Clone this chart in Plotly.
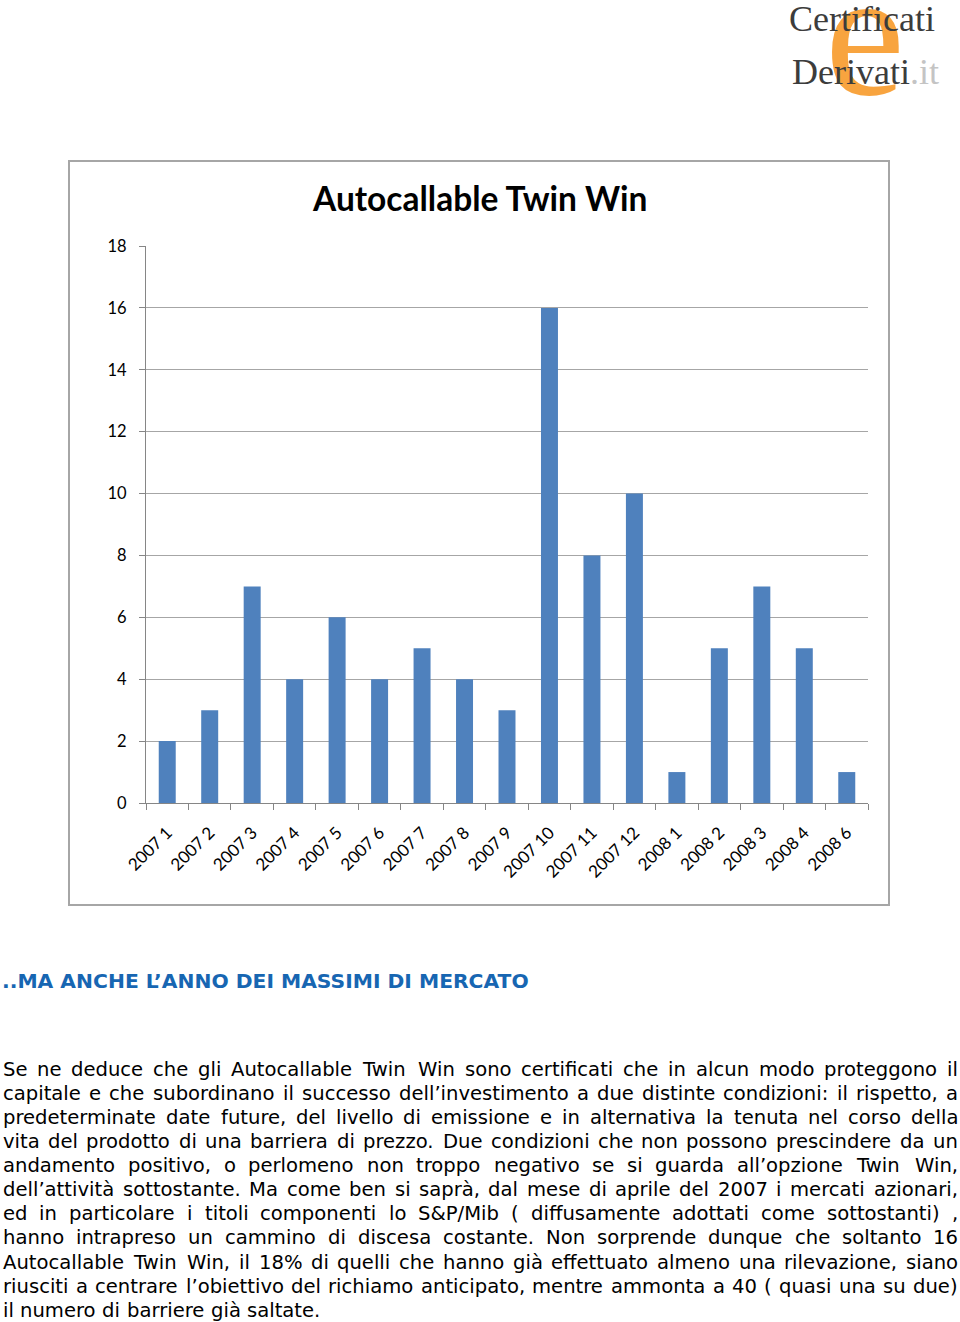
import plotly.graph_objects as go

# ---------------- data ----------------
categories = ["2007 1", "2007 2", "2007 3", "2007 4", "2007 5", "2007 6", "2007 7",
              "2007 8", "2007 9", "2007 10", "2007 11", "2007 12", "2008 1",
              "2008 2", "2008 3", "2008 4", "2008 6"]
values = [2, 3, 7, 4, 6, 4, 5, 4, 3, 16, 8, 10, 1, 5, 7, 5, 1]
y_ticks = [0, 2, 4, 6, 8, 10, 12, 14, 16, 18]

chart_title = "Autocallable Twin Win"
heading = "..MA ANCHE L’ANNO DEI MASSIMI DI MERCATO"
body_lines = [
    "Se ne deduce che gli Autocallable Twin Win sono certificati che in alcun modo proteggono il",
    "capitale e che subordinano il successo dell’investimento a due distinte condizioni: il rispetto, a",
    "predeterminate date future, del livello di emissione e in alternativa la tenuta nel corso della",
    "vita del prodotto di una barriera di prezzo. Due condizioni che non possono prescindere da un",
    "andamento positivo, o perlomeno non troppo negativo se si guarda all’opzione Twin Win,",
    "dell’attività sottostante. Ma come ben si saprà, dal mese di aprile del 2007 i mercati azionari,",
    "ed in particolare i titoli componenti lo S&P/Mib ( diffusamente adottati come sottostanti) ,",
    "hanno intrapreso un cammino di discesa costante. Non sorprende dunque che soltanto 16",
    "Autocallable Twin Win, il 18% di quelli che hanno già effettuato almeno una rilevazione, siano",
    "riusciti a centrare l’obiettivo del richiamo anticipato, mentre ammonta a 40 ( quasi una su due)",
    "il numero di barriere già saltate.",
]

# ---------------- layout geometry (pixels) ----------------
W, H = 960, 1322
PL, PR, PT, PB = 146, 868, 246, 803


def px(x):
    return (x - PL) / (PR - PL)


def py(y):
    return (PB - y) / (PB - PT)


# DejaVu Sans advance widths (per 1000 em)
DV = {' ': 318, '%': 950, '&': 780, '’': 318, '(': 390, ')': 390, ',': 318, '.': 318,
      '/': 337, ':': 337, 'A': 684, 'B': 686, 'C': 698, 'D': 770, 'E': 632, 'I': 295,
      'L': 557, 'M': 863, 'N': 748, 'O': 787, 'P': 603, 'R': 695, 'S': 635, 'T': 611,
      'W': 989, 'a': 613, 'b': 635, 'c': 550, 'd': 635, 'e': 615, 'f': 352, 'g': 635,
      'h': 634, 'i': 278, 'j': 278, 'k': 579, 'l': 278, 'm': 974, 'n': 634, 'o': 612,
      'p': 635, 'q': 635, 'r': 411, 's': 521, 't': 392, 'u': 634, 'v': 592, 'w': 818,
      'x': 592, 'y': 592, 'z': 525, 'à': 613, 'ù': 634, 'è': 615, 'ì': 278, 'ò': 612}


def text_w(s, fs):
    return sum(DV.get(ch, 636) for ch in s) * fs / 1000.0


fig = go.Figure()
fig.add_trace(go.Bar(x=categories, y=values, marker=dict(color="#4F81BD", line=dict(width=0)),
                     hoverinfo="x+y"))

annotations = []

# logo
annotations.append(dict(x=px(865), y=py(34), xref="paper", yref="paper", text="e",
                        showarrow=False, xanchor="center", yanchor="middle",
                        font=dict(family="Liberation Serif", size=180, color="rgba(247,148,29,0.85)")))
annotations.append(dict(x=px(788), y=py(19), xref="paper", yref="paper", text="Certificati",
                        showarrow=False, xanchor="left", yanchor="middle", borderpad=0,
                        font=dict(family="Liberation Serif", size=36, color="#3C3C3C")))
annotations.append(dict(x=px(791), y=py(72), xref="paper", yref="paper",
                        text="Derivati<span style='color:#C4C4C4'>.it</span>",
                        showarrow=False, xanchor="left", yanchor="middle", borderpad=0,
                        font=dict(family="Liberation Serif", size=36, color="#3C3C3C")))

# chart title
annotations.append(dict(x=px(479), y=py(198), xref="paper", yref="paper", text="<b>" + chart_title + "</b>",
                        showarrow=False, xanchor="center", yanchor="middle",
                        font=dict(family="Lato", size=33.5, color="#000000")))

# heading
annotations.append(dict(x=px(1), y=py(981), xref="paper", yref="paper", text="<b>" + heading + "</b>",
                        showarrow=False, xanchor="left", yanchor="middle", borderpad=0,
                        font=dict(family="DejaVu Sans", size=20.3, color="#1766B2")))

# justified body text
FS = 19.6
XL, XR = 2, 957
line_y = [1069, 1093, 1117, 1141, 1165, 1189, 1213, 1237, 1262, 1286, 1310]
for i, line in enumerate(body_lines):
    words = line.split(" ")
    widths = [text_w(wd, FS) for wd in words]
    justify = i < len(body_lines) - 1
    if justify and len(words) > 1:
        gap = (XR - XL - sum(widths)) / (len(words) - 1)
    else:
        gap = DV[' '] * FS / 1000.0
    x = XL
    for wd, ww in zip(words, widths):
        annotations.append(dict(x=px(x), y=py(line_y[i]), xref="paper", yref="paper",
                                text=wd.replace("&", "&amp;"), showarrow=False,
                                xanchor="left", yanchor="middle", borderpad=0,
                                font=dict(family="DejaVu Sans", size=FS, color="#000000")))
        x += ww + gap

shapes = [dict(type="rect", xref="paper", yref="paper", x0=px(69), x1=px(889), y0=py(161), y1=py(905),
               line=dict(color="#A6A6A6", width=2), fillcolor="rgba(0,0,0,0)", layer="below")]

fig.update_layout(
    width=W, height=H,
    margin=dict(l=PL, r=W - PR, t=PT, b=H - PB, pad=0),
    paper_bgcolor="white", plot_bgcolor="white",
    showlegend=False,
    bargap=0.6,
    annotations=annotations,
    shapes=shapes,
    xaxis=dict(type="category", categoryorder="array", categoryarray=categories,
               tickangle=-45, tickson="boundaries", ticks="outside", ticklen=6,
               tickcolor="#868686", showline=True, linecolor="#868686", linewidth=1,
               showgrid=False, ticklabelstandoff=12,
               tickfont=dict(family="Lato", size=17, color="#000000"),
               fixedrange=True),
    yaxis=dict(range=[0, 18], tickvals=y_ticks, ticks="outside", ticklen=6,
               tickcolor="#868686", showline=True, linecolor="#868686", linewidth=1,
               showgrid=True, gridcolor="#A6A6A6", gridwidth=1, zeroline=False,
               ticklabelstandoff=9,
               tickfont=dict(family="Lato", size=16.5, color="#000000"), fixedrange=True),
)

fig.write_html("out.html")
